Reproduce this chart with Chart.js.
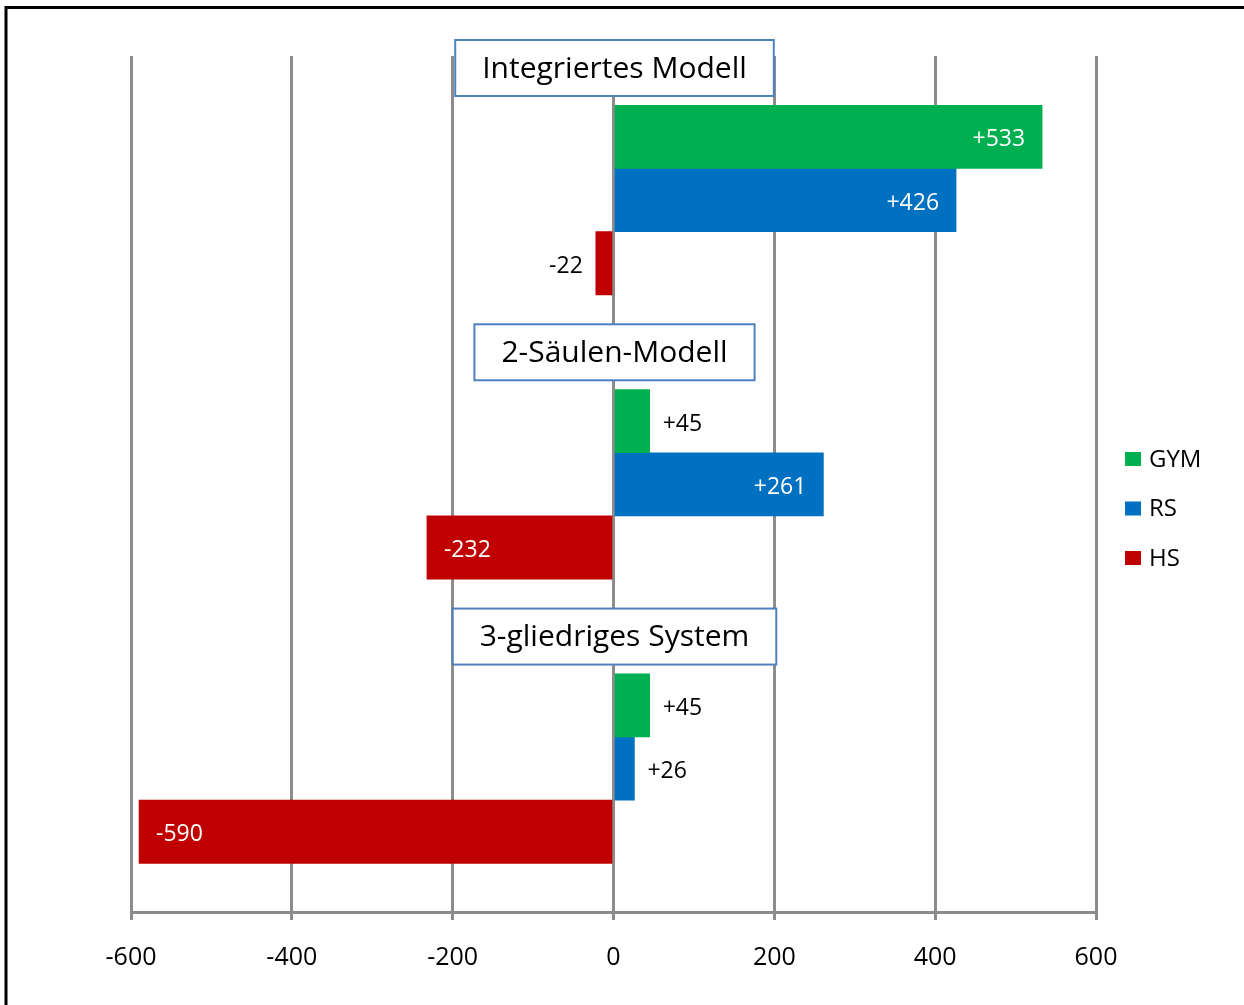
<!DOCTYPE html>
<html lang="de">
<head>
<meta charset="utf-8">
<title>Schülerzahlen je Modell</title>
<script src="https://cdn.jsdelivr.net/npm/chart.js@4.4.1/dist/chart.umd.min.js"></script>
<style>
  html, body { margin: 0; padding: 0; background: #fff; overflow: hidden; }
  #wrap { position: relative; width: 1244px; height: 1005px; }
</style>
</head>
<body>
<div id="wrap"><canvas id="chart"></canvas></div>
<script>
const groups = ['Integriertes Modell', '2-Säulen-Modell', '3-gliedriges System'];
const seriesNames = ['GYM', 'RS', 'HS'];
const gymValues = [533, 45, 45];
const rsValues = [426, 261, 26];
const hsValues = [-22, -232, -590];
const xTicks = [-600, -400, -200, 0, 200, 400, 600];

const seriesColors = ['#00b050', '#0070c0', '#c00000'];
// row of the first bar of each group on the hidden index axis (groups are 4.5 rows apart)
const groupStart = [0, 4.5, 9];
const FONT = '"Open Sans", sans-serif';
const GRID = '#8c8c8c';

const values = [gymValues, rsValues, hsValues];
const datasets = seriesNames.map((name, s) => ({
  label: name,
  data: values[s].map((v, g) => ({ x: v, y: groupStart[g] + s })),
  backgroundColor: seriesColors[s],
  borderWidth: 0,
  barPercentage: 1,
  categoryPercentage: 1
}));

// value labels: white inside the bar end when it fits, black just outside otherwise
const barLabels = {
  id: 'barLabels',
  afterDatasetsDraw(chart) {
    const ctx = chart.ctx;
    ctx.save();
    ctx.font = '23px ' + FONT;
    ctx.textBaseline = 'middle';
    chart.data.datasets.forEach((ds, i) => {
      chart.getDatasetMeta(i).data.forEach((bar, j) => {
        const v = ds.data[j].x;
        const txt = (v > 0 ? '+' : '') + v;
        const tw = ctx.measureText(txt).width;
        const len = Math.abs(bar.x - bar.base);
        const dir = v >= 0 ? 1 : -1;
        const y = bar.y + 3;
        if (len > tw + 40) {
          ctx.fillStyle = '#fff';
          ctx.textAlign = dir > 0 ? 'right' : 'left';
          ctx.fillText(txt, bar.x - dir * 17, y);
        } else {
          ctx.fillStyle = '#000';
          ctx.textAlign = dir > 0 ? 'left' : 'right';
          ctx.fillText(txt, bar.x + dir * 13, y);
        }
      });
    });
    ctx.restore();
  }
};

// boxed group titles above each block of bars
const groupTitles = {
  id: 'groupTitles',
  afterDatasetsDraw(chart) {
    const ctx = chart.ctx;
    const xs = chart.scales.x, ys = chart.scales.y;
    ctx.save();
    ctx.font = '30px ' + FONT;
    ctx.textAlign = 'center';
    ctx.textBaseline = 'middle';
    groups.forEach((g, k) => {
      const cx = xs.getPixelForValue(0) + 1;
      const cy = ys.getPixelForValue(groupStart[k] - 1.09);
      const w = ctx.measureText(g).width + 54;
      const h = 56;
      ctx.fillStyle = '#fff';
      ctx.fillRect(cx - w / 2, cy - h / 2, w, h);
      ctx.strokeStyle = '#4f81bd';
      ctx.lineWidth = 2;
      ctx.strokeRect(cx - w / 2, cy - h / 2, w, h);
      ctx.fillStyle = '#000';
      ctx.fillText(g, cx, cy + 1);
    });
    ctx.restore();
  }
};

// legend on the right plus the frame lines at top and left
const sideLegend = {
  id: 'sideLegend',
  afterDraw(chart) {
    const ctx = chart.ctx;
    const area = chart.chartArea;
    ctx.save();
    ctx.font = '24px ' + FONT;
    ctx.textBaseline = 'middle';
    ctx.textAlign = 'left';
    const top = (area.top + area.bottom) / 2 - 25;
    chart.data.datasets.forEach((ds, i) => {
      const y = top + i * 49.5;
      ctx.fillStyle = ds.backgroundColor;
      ctx.fillRect(area.right + 29, y - 7, 16, 14);
      ctx.fillStyle = '#000';
      ctx.fillText(ds.label, area.right + 53, y + 1);
    });
    ctx.strokeStyle = '#000';
    ctx.lineWidth = 3;
    ctx.beginPath();
    ctx.moveTo(5, 7.5);
    ctx.lineTo(chart.width, 7.5);
    ctx.moveTo(6, 6);
    ctx.lineTo(6, chart.height);
    ctx.stroke();
    ctx.restore();
  }
};

new Chart(document.getElementById('chart'), {
  type: 'bar',
  data: { datasets },
  plugins: [barLabels, groupTitles, sideLegend],
  options: {
    indexAxis: 'y',
    responsive: true,
    maintainAspectRatio: false,
    devicePixelRatio: 1,
    animation: false,
    layout: { padding: { top: 56, left: 131, right: 148, bottom: 9 } },
    scales: {
      x: {
        type: 'linear',
        position: 'bottom',
        stacked: true,
        min: -600,
        max: 600,
        afterBuildTicks: scale => { scale.ticks = xTicks.map(v => ({ value: v })); },
        grid: { color: GRID, lineWidth: 3, tickLength: 8, drawTicks: true },
        border: { color: GRID, width: 3 },
        ticks: {
          color: '#000',
          padding: 23,
          maxRotation: 0,
          autoSkip: false,
          font: { family: FONT, size: 25 }
        }
      },
      y: {
        type: 'linear',
        reverse: true,
        stacked: true,
        offset: false,
        min: -1.28,
        max: 12.27,
        display: false,
        // no ticks on the hidden axis, so bar thickness follows the row spacing only
        afterBuildTicks: scale => { scale.ticks = []; },
        grid: { offset: false }
      }
    },
    plugins: {
      legend: { display: false },
      tooltip: { enabled: false }
    }
  }
});
</script>
</body>
</html>
